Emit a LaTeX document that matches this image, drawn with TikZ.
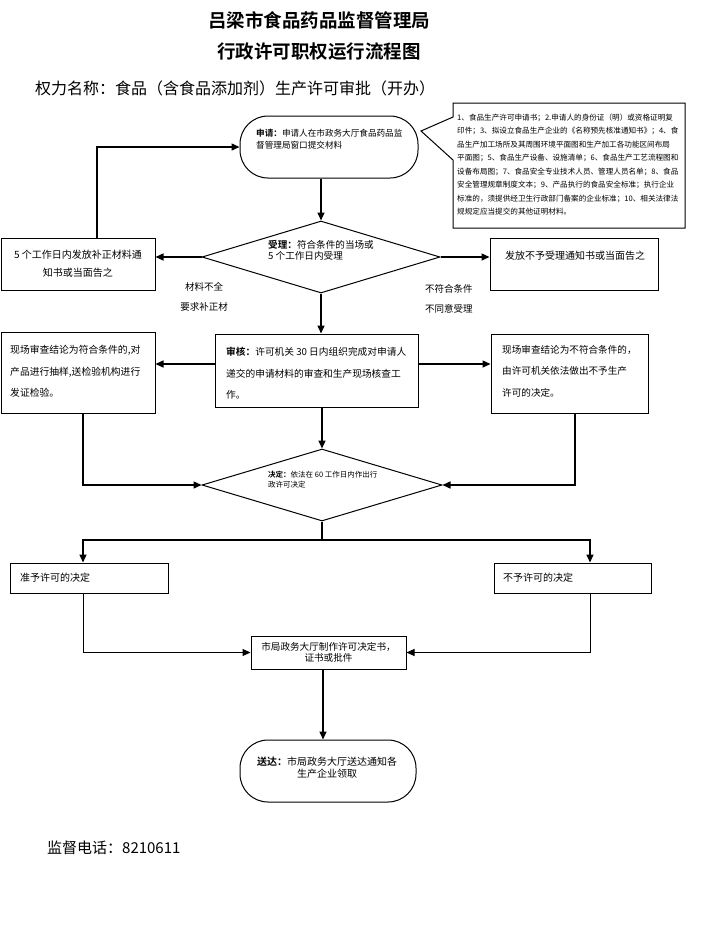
\documentclass[tikz,border=0pt]{standalone}
\usepackage{fontspec}
\setmainfont{Noto Sans CJK SC}[BoldFont={Noto Sans CJK SC Bold}]
\usetikzlibrary{shapes.geometric,arrows.meta}
\newcommand{\fs}[2]{\fontsize{#1}{#2}\selectfont}
\begin{document}
\begin{tikzpicture}[x=1pt,y=-1pt,
  box/.style={draw,line width=1pt,inner sep=0pt},
  dia/.style={draw,diamond,line width=1pt,inner sep=0pt},
  txt/.style={inner sep=0pt,align=left,anchor=north west},
  conn/.style={line width=1.5pt},
  arr/.style={conn,-{Triangle[length=8pt,width=7pt]}},
  thinc/.style={line width=1pt}]
\useasboundingbox (0,0) rectangle (701,930);
\fill[white] (0,0) rectangle (701,930);

% titles
\node[inner sep=0pt,font=\fs{18.5}{20}\bfseries] (t1) at (319,20) {吕梁市食品药品监督管理局};
\node[inner sep=0pt,font=\fs{18.5}{20}\bfseries] (t2) at (319,52) {行政许可职权运行流程图};
\node[inner sep=0pt,anchor=west,font=\fs{16}{18}] (t3) at (35,88) {权力名称：食品（含食品添加剂）生产许可审批（开办）};

% shapes
\node[box,minimum width=178pt,minimum height=62pt,rounded corners=28pt] (start) at (329,147) {};
\node[txt,font=\fs{8.6}{12}] (starttxt) at (256,128.5) {\textbf{申请：}申请人在市政务大厅食品药品监\\督管理局窗口提交材料};

\draw[line width=1pt,fill=white] (453,103) -- (685,103) -- (685,228) -- (453,228) -- (453,160) -- (421,131) -- (453,117) -- cycle;
\node[txt,font=\fs{7.6}{13.5}] (calltxt) at (457,113.3) {1、食品生产许可申请书；2.申请人的身份证（明）或资格证明复\\印件；3、拟设立食品生产企业的《名称预先核准通知书》；4、食\\品生产加工场所及其周围环境平面图和生产加工各功能区间布局\\平面图；5、食品生产设备、设施清单；6、食品生产工艺流程图和\\设备布局图；7、食品安全专业技术人员、管理人员名单；8、食品\\安全管理规章制度文本；9、产品执行的食品安全标准；执行企业\\标准的，须提供经卫生行政部门备案的企业标准；10、相关法律法\\规规定应当提交的其他证明材料。};

\node[dia,minimum width=238pt,minimum height=72pt] (d1) at (321,257) {};
\node[txt,font=\fs{9.6}{10.5}] (d1txt) at (268,240.5) {\textbf{受理：}符合条件的当场或\\5 个工作日内受理};

\node[box,minimum width=154pt,minimum height=52pt,align=center,font=\fs{10}{18}] (lb1) at (78,264) {5 个工作日内发放补正材料通\\知书或当面告之};
\node[box,minimum width=168pt,minimum height=52pt] (rb1) at (574,264) {};
\node[inner sep=0pt,anchor=west,font=\fs{10}{12}] (rb1txt) at (505,256) {发放不予受理通知书或当面告之};

\node[inner sep=0pt,align=center,font=\fs{9.5}{20}] (labL) at (204,297) {材料不全\\要求补正材};
\node[txt,font=\fs{9.5}{19.5}] (labR) at (425,284.3) {不符合条件\\不同意受理};

\node[box,minimum width=203pt,minimum height=73pt] (rv) at (316.5,370.5) {};
\node[txt,font=\fs{9.7}{21.5}] (rvtxt) at (226,347) {\textbf{审核：}许可机关 30 日内组织完成对申请人\\递交的申请材料的审查和生产现场核查工\\作。};

\node[box,minimum width=154pt,minimum height=81pt] (lb2) at (78,372.5) {};
\node[txt,font=\fs{9.8}{21.5}] (lb2txt) at (10,345) {现场审查结论为符合条件的,对\\产品进行抽样,送检验机构进行\\发证检验。};

\node[box,minimum width=157pt,minimum height=79pt] (rb2) at (569.5,373.5) {};
\node[txt,font=\fs{9.6}{21.5}] (rb2txt) at (502,345) {现场审查结论为不符合条件的，\\由许可机关依法做出不予生产\\许可的决定。};

\node[dia,minimum width=240pt,minimum height=72pt] (d2) at (322,485) {};
\node[txt,font=\fs{7.5}{10}] (d2txt) at (268,471) {\textbf{决定：}依法在 60 工作日内作出行\\政许可决定};

\node[box,minimum width=158pt,minimum height=30pt] (lb3) at (89,578) {};
\node[inner sep=0pt,anchor=west,font=\fs{10}{12}] (lb3txt) at (20,578) {准予许可的决定};
\node[box,minimum width=157pt,minimum height=30pt] (rb3) at (572.5,578) {};
\node[inner sep=0pt,anchor=west,font=\fs{10}{12}] (rb3txt) at (503,578) {不予许可的决定};

\node[box,minimum width=155pt,minimum height=33pt,align=center,font=\fs{9.6}{11}] (pb) at (328.5,652.5) {市局政务大厅制作许可决定书，\\证书或批件};

\node[box,minimum width=176pt,minimum height=62pt,rounded corners=28pt] (end) at (328,771) {};
\node[inner sep=0pt,align=center,font=\fs{10}{11.5}] (endtxt) at (327,767.5) {\textbf{送达：}市局政务大厅送达通知各\\生产企业领取};

\node[inner sep=0pt,anchor=west,font=\fs{15}{17}] (foot) at (47,848) {监督电话：8210611};

% helper coordinates
\coordinate (xA) at (97,0);
\coordinate (xL) at (83,0);
\coordinate (xR) at (590,0);
\coordinate (xS) at (575,0);
\coordinate (xC) at (323,0);
\coordinate (yM) at (0,364);
\coordinate (jn) at (322,540);

% connectors
\draw[arr] (start.south -| d1.north) -- (d1.north);
\draw[arr] (d1.west) -- (d1.west -| lb1.east);
\draw[arr] (d1.east) -- (d1.east -| rb1.west);
\draw[arr] (lb1.north -| xA) |- (start.west);
\draw[arr] (d1.south) -- (d1.south |- rv.north);
\draw[arr] (rv.west |- yM) -- (lb2.east |- yM);
\draw[arr] (rv.east |- yM) -- (rb2.west |- yM);
\draw[arr] (rv.south -| d2.north) -- (d2.north);
\draw[arr] (lb2.south -| xL) |- (d2.west);
\draw[arr] (rb2.south -| xS) |- (d2.east);
\draw[conn] (d2.south) -- (jn);
\draw[arr] (jn) -| (lb3.north -| xL);
\draw[arr] (jn) -| (rb3.north -| xR);
\draw[arr,thinc] (lb3.south -| xL) |- (pb.west);
\draw[arr,thinc] (rb3.south -| xR) |- (pb.east);
\draw[arr] (pb.south -| xC) -- (end.north -| xC);
\end{tikzpicture}
\end{document}
